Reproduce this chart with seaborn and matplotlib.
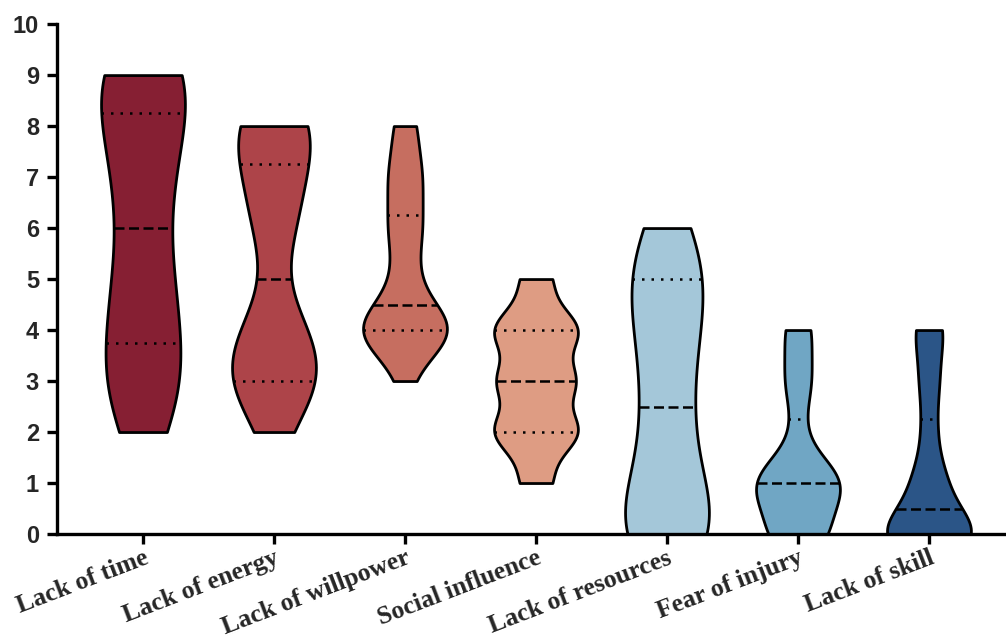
import numpy as np
import pandas as pd
import matplotlib
matplotlib.use("Agg")
import matplotlib.pyplot as plt
import seaborn as sns

categories = ["Lack of time", "Lack of energy", "Lack of willpower", "Social influence",
              "Lack of resources", "Fear of injury", "Lack of skill"]
colors = ["#861F33", "#AD4449", "#C66E60", "#DE9C83", "#A4C7D9", "#70A6C4", "#2B5587"]

# score -> number of respondents, one pair of lists per barrier
time_scores = [2, 3, 4, 5, 6, 7, 8, 9]
time_counts = [3, 7, 4, 5, 2, 5, 4, 10]
energy_scores = [2, 3, 4, 6, 7, 8]
energy_counts = [2, 11, 7, 5, 5, 10]
willpower_scores = [3, 4, 5, 6, 7, 8]
willpower_counts = [2, 18, 4, 6, 6, 4]
social_scores = [1, 2, 3, 4, 5]
social_counts = [4, 11, 10, 11, 4]
resources_scores = [0, 1, 2, 3, 4, 5, 6]
resources_counts = [11, 5, 4, 4, 5, 7, 4]
injury_scores = [0, 1, 2, 3, 4]
injury_counts = [11, 17, 2, 5, 5]
skill_scores = [0, 1, 2, 3, 4]
skill_counts = [20, 7, 3, 4, 6]

y_ticks = list(range(0, 11))

# kde smoothing per violin
bw_adjusts = [0.9, 0.8, 0.75, 0.75, 0.9, 0.8, 0.7]

groups = [(time_scores, time_counts), (energy_scores, energy_counts),
          (willpower_scores, willpower_counts), (social_scores, social_counts),
          (resources_scores, resources_counts), (injury_scores, injury_counts),
          (skill_scores, skill_counts)]

rows = []
for cat, (scores, counts) in zip(categories, groups):
    for s, c in zip(scores, counts):
        rows += [(cat, s)] * c
df = pd.DataFrame(rows, columns=["barrier", "score"])

sns.set_style("ticks")
plt.rcParams["font.family"] = ["Liberation Sans", "DejaVu Sans"]

fig = plt.figure(figsize=(10.06, 6.39), dpi=100)
ax = fig.add_axes([0.0567, 0.1643, 0.9433, 0.798])

for cat, col, bw in zip(categories, colors, bw_adjusts):
    sns.violinplot(data=df[df["barrier"] == cat], x="barrier", y="score", order=categories,
                   color=col, cut=0, inner="quart", density_norm="width", width=0.64,
                   bw_adjust=bw, linewidth=2, linecolor="black", saturation=1, ax=ax)

# quartile lines: dotted, median dashed
for i, line in enumerate(ax.lines):
    line.set_color("black")
    line.set_linewidth(1.8)
    if i % 3 == 1:
        line.set_dashes([4, 1.8])
    else:
        line.set_dashes([1, 2.8])

ax.set_xlim(-0.656, 6.588)
ax.set_ylim(0, 10)
ax.set_yticks(y_ticks)
ax.set_xlabel("")
ax.set_ylabel("")

for side in ["top", "right"]:
    ax.spines[side].set_visible(False)
for side in ["left", "bottom"]:
    ax.spines[side].set_linewidth(2.4)
    ax.spines[side].set_color("black")

ax.tick_params(axis="both", length=7, width=2.4, color="black")
ax.tick_params(axis="y", pad=6)
ax.tick_params(axis="x", pad=2)

for lab in ax.get_yticklabels():
    lab.set_fontfamily(["Liberation Sans", "DejaVu Sans"])
    lab.set_fontweight("bold")
    lab.set_fontsize(17)

ax.set_xticks(range(len(categories)))
ax.set_xticklabels(categories, rotation=21, ha="right", va="top", rotation_mode="anchor",
                   fontsize=18.5, fontweight="bold", family=["Liberation Serif", "DejaVu Serif"])

fig.savefig("out.png", dpi=100)
